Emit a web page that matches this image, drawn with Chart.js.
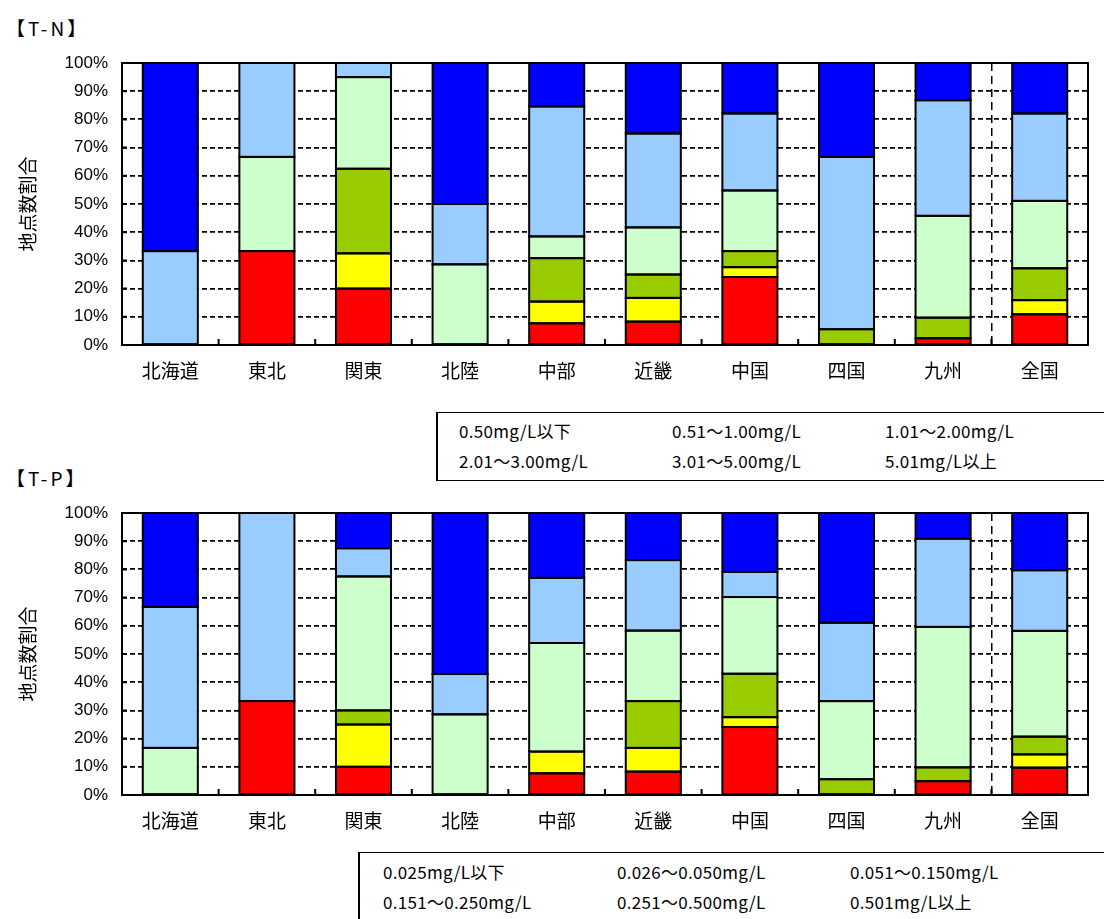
<!DOCTYPE html>
<html>
<head>
<meta charset="utf-8">
<script src="https://cdn.jsdelivr.net/npm/chart.js@4.4.1/dist/chart.umd.min.js"></script>
<style>
    body { margin: 0; background: #fff; width: 1104px; height: 919px; overflow: hidden; position: relative;
           font-family: "Noto Sans CJK JP", sans-serif; color: #000; }
    .ttl  { position: absolute; left: 6px; font-size: 19px; line-height: 24px; letter-spacing: 3px; }
    .wrap { position: absolute; left: 0; width: 1104px; height: 400px; }
    .leg  { position: absolute; border: 1.5px solid #000; border-left-width: 2px; width: 800px; font-size: 17px; }
    .leg span { position: absolute; white-space: nowrap; line-height: 20px; letter-spacing: 0.3px; }
</style>
</head>
<body>

<div class="ttl" style="top:16px">【T-N】</div>
<div class="wrap" style="top:0"><canvas id="tnChart"></canvas></div>
<div class="leg" id="tnLegend" style="left:436px;top:412px;height:67px"></div>

<div class="ttl" style="top:466px">【T-P】</div>
<div class="wrap" style="top:450px"><canvas id="tpChart"></canvas></div>
<div class="leg" id="tpLegend" style="left:358px;top:852px;height:90px"></div>

<script>
/* ── DATA ─────────────────────────────────────────────── */
const regions = ['北海道', '東北', '関東', '北陸', '中部', '近畿', '中国', '四国', '九州', '全国'];

// T-N : share of sites (%) per class, bottom of stack first
const tnClasses = ['0.50mg/L以下', '0.51～1.00mg/L', '1.01～2.00mg/L',
                   '2.01～3.00mg/L', '3.01～5.00mg/L', '5.01mg/L以上'];
const tnOver501  = [0,    33.3, 20,   0,    7.7,  8.3,  24.1, 0,    2.4,  10.9];
const tn301_500  = [0,    0,    12.5, 0,    7.7,  8.4,  3.5,  0,    0,    5.0];
const tn201_300  = [0,    0,    30,   0,    15.4, 8.3,  5.7,  5.6,  7.3,  11.3];
const tn101_200  = [0,    33.4, 32.5, 28.6, 7.7,  16.7, 21.5, 0,    36.1, 23.9];
const tn051_100  = [33.3, 33.3, 5,    21.4, 46.1, 33.3, 27.3, 61.1, 41.0, 31.0];
const tnUnder050 = [66.7, 0,    0,    50,   15.4, 25,   17.9, 33.3, 13.2, 17.9];

// T-P
const tpClasses = ['0.025mg/L以下', '0.026～0.050mg/L', '0.051～0.150mg/L',
                   '0.151～0.250mg/L', '0.251～0.500mg/L', '0.501mg/L以上'];
const tpOver0501  = [0,    33.3, 10,   0,    7.7,  8.3,  24.1, 0,    4.9,  9.7];
const tp0251_0500 = [0,    0,    15,   0,    7.7,  8.4,  3.5,  0,    0,    4.7];
const tp0151_0250 = [0,    0,    5,    0,    0,    16.6, 15.4, 5.6,  4.9,  6.3];
const tp0051_0150 = [16.7, 0,    47.5, 28.6, 38.5, 25,   27.2, 27.7, 49.8, 37.5];
const tp0026_0050 = [50,   66.7, 10,   14.3, 23.1, 25,   8.9,  27.8, 31.3, 21.5];
const tpUnder0025 = [33.3, 0,    12.5, 57.1, 23.0, 16.7, 20.9, 38.9, 9.1,  20.3];

const yTicks = [0, 10, 20, 30, 40, 50, 60, 70, 80, 90, 100];

/* ── STYLE ────────────────────────────────────────────── */
// colours bottom → top : worst class first
const COLORS = ['#ff0000', '#ffff00', '#99cc00', '#ccffcc', '#99ccff', '#0000ff'];
const CJK = '"Noto Sans CJK JP", sans-serif';

/* segment outlines, frame, inner ticks and rotated y title */
const framePlugin = {
    id: 'frame',
    afterDatasetsDraw(chart) {
        const { ctx, chartArea: a, scales: { x, y } } = chart;
        ctx.save();
        ctx.strokeStyle = '#000';
        ctx.lineWidth = 2;
        ctx.setLineDash([]);

        // crisp black outline round every non-empty segment
        chart.data.datasets.forEach((ds, i) => {
            chart.getDatasetMeta(i).data.forEach(bar => {
                const top = Math.min(bar.y, bar.base);
                const h = Math.abs(bar.base - bar.y);
                if (h < 0.5) return;
                ctx.strokeRect(bar.x - bar.width / 2, top, bar.width, h);
            });
        });

        // small inward ticks at category boundaries and on the y axis
        ctx.beginPath();
        for (let i = 1; i < regions.length; i++) {
            const px = (x.getPixelForValue(i - 1) + x.getPixelForValue(i)) / 2;
            ctx.moveTo(px, a.bottom);
            ctx.lineTo(px, a.bottom - 6);
        }
        y.ticks.forEach(t => {
            const py = y.getPixelForValue(t.value);
            ctx.moveTo(a.left, py);
            ctx.lineTo(a.left + 5, py);
        });
        ctx.stroke();
        ctx.strokeRect(a.left, a.top, a.right - a.left, a.bottom - a.top);

        // y title
        ctx.translate(28, (a.top + a.bottom) / 2);
        ctx.rotate(-Math.PI / 2);
        ctx.fillStyle = '#000';
        ctx.font = '19px ' + CJK;
        ctx.textAlign = 'center';
        ctx.textBaseline = 'middle';
        ctx.fillText('地点数割合', 0, 0);
        ctx.restore();
    }
};

function makeChart(id, series, names) {
    new Chart(document.getElementById(id), {
        type: 'bar',
        data: {
            labels: regions,
            datasets: series.map((d, i) => ({
                label: names[names.length - 1 - i],
                data: d,
                backgroundColor: COLORS[i],
                borderWidth: 0,
                inflateAmount: 0,
                categoryPercentage: 1,
                barPercentage: 0.57,
            }))
        },
        options: {
            responsive: true,
            maintainAspectRatio: false,
            animation: false,
            layout: { padding: { top: 63, right: 16, left: 0, bottom: 0 } },
            plugins: { legend: { display: false }, tooltip: { enabled: false } },
            scales: {
                x: {
                    stacked: true,
                    grid: {
                        offset: true,
                        drawTicks: false,
                        lineWidth: 1.5,
                        color: c => c.index === 9 ? '#000' : 'rgba(0,0,0,0)',
                    },
                    border: { display: false, dash: [8, 5] },
                    ticks: { color: '#000', padding: 14, font: { family: CJK, size: 19 } },
                    afterFit: s => { s.height = 55; }
                },
                y: {
                    stacked: true,
                    min: 0,
                    max: 100,
                    afterBuildTicks: s => { s.ticks = yTicks.map(v => ({ value: v })); },
                    grid: { drawTicks: false, color: '#000', lineWidth: 1.8 },
                    border: { display: false, dash: [5, 3] },
                    ticks: {
                        color: '#000',
                        padding: 14,
                        font: { family: '"Liberation Sans Narrow", "Liberation Sans", sans-serif', size: 17 },
                        callback: v => v + '%'
                    },
                    afterFit: s => { s.width = 122; }
                }
            }
        },
        plugins: [framePlugin]
    });
}

makeChart('tnChart', [tnOver501, tn301_500, tn201_300, tn101_200, tn051_100, tnUnder050], tnClasses);
makeChart('tpChart', [tpOver0501, tp0251_0500, tp0151_0250, tp0051_0150, tp0026_0050, tpUnder0025], tpClasses);

/* ── LEGEND BOXES (text only, as in the original) ─────── */
function fillLegend(id, names, cols, rows) {
    const box = document.getElementById(id);
    names.forEach((n, i) => {
        const s = document.createElement('span');
        s.textContent = n;
        s.style.left = cols[i % 3] + 'px';
        s.style.top = rows[Math.floor(i / 3)] + 'px';
        box.appendChild(s);
    });
}
fillLegend('tnLegend', tnClasses, [21, 234, 447], [8, 38]);
fillLegend('tpLegend', tpClasses, [23, 257, 490], [9, 39]);
</script>
</body>
</html>
